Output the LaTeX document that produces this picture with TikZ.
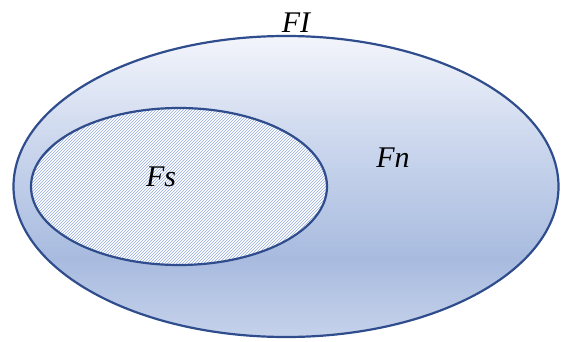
\documentclass[tikz,border=0pt]{standalone}
\usepackage{fontspec}
\setmainfont{Liberation Serif}
\usetikzlibrary{shapes.geometric, patterns, positioning}
\definecolor{rimcolor}{HTML}{2F4D8C}
\definecolor{hatchcolor}{HTML}{93ABDD}
\definecolor{shadetop}{HTML}{F3F5FB}
\definecolor{shademid}{HTML}{CDD8EE}
\definecolor{shadelow}{HTML}{A8BBDF}
\definecolor{shadebot}{HTML}{C6D2EB}
\pgfdeclareverticalshading{setshade}{100bp}{%
  color(0bp)=(shadebot); color(25bp)=(shadebot);
  color(38bp)=(shadelow); color(58bp)=(shademid);
  color(75bp)=(shadetop); color(100bp)=(shadetop)}

\begin{document}
\begin{tikzpicture}[
    x=1pt, y=1pt,
    setbox/.style={ellipse, draw=rimcolor, line width=2.2pt, inner sep=0pt},
    label/.style={font=\fontsize{30}{33}\selectfont\itshape, text=black, inner sep=0pt}
]
\useasboundingbox (0,0) rectangle (561,341);

\node[setbox, shading=setshade, minimum width=545pt, minimum height=301pt] (full) at (286,154.5) {};
\node[setbox, preaction={fill=white}, pattern=north east lines, pattern color=hatchcolor,
      minimum width=296pt, minimum height=157pt] (sub) at (179,154.5) {};

\node[label, above=2pt of full.north, xshift=10pt] (fi) {FI};
\node[label] (fs) at (161,164) {Fs};
\node[label] (fn) at (393,183) {Fn};

\end{tikzpicture}
\end{document}
